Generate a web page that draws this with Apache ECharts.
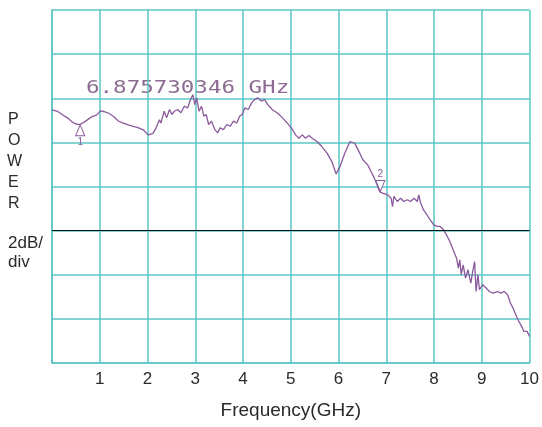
<!DOCTYPE html>
<html>
<head>
<meta charset="utf-8">
<script src="https://cdn.jsdelivr.net/npm/echarts@6/dist/echarts.min.js"></script>
<style>
  html, body { margin: 0; padding: 0; background: #ffffff; }
  #chart { width: 542px; height: 427px; }
</style>
</head>
<body>
<div id="chart"></div>
<script>
// Swept power trace, 0–10 GHz, 2 dB per vertical division
const freqGHz = [
  0, 0.12, 0.22, 0.33, 0.43, 0.53, 0.59, 0.64, 0.74, 0.84,
  0.94, 1.01, 1.08, 1.19, 1.29, 1.39, 1.49, 1.60, 1.70, 1.80,
  1.91, 2.01, 2.11,
  2.18, 2.25, 2.28, 2.35, 2.40, 2.46, 2.51, 2.56, 2.63, 2.70,
  2.77, 2.84, 2.90, 2.95, 2.99, 3.03, 3.08, 3.13, 3.18, 3.23,
  3.28, 3.34, 3.41, 3.47, 3.52, 3.59, 3.66, 3.73, 3.80, 3.87,
  3.93, 3.98, 4.04, 4.11, 4.18, 4.24, 4.31, 4.38, 4.45, 4.52,
  4.62, 4.73, 4.83, 4.93, 5.04, 5.10,
  5.17, 5.24, 5.31, 5.38, 5.45, 5.55, 5.65, 5.76, 5.86, 5.95,
  6.03, 6.13, 6.24, 6.34, 6.41, 6.51, 6.61, 6.68, 6.75, 6.82,
  6.86, 6.92, 7.03, 7.10, 7.13, 7.16, 7.23, 7.30, 7.37, 7.44,
  7.51, 7.58, 7.65, 7.68, 7.72, 7.78, 7.85, 7.92, 7.99, 8.06,
  8.13, 8.20, 8.26, 8.33, 8.40, 8.47, 8.51, 8.54, 8.57, 8.61,
  8.66, 8.71, 8.77, 8.81, 8.85, 8.88, 8.92, 8.95, 9.02, 9.09,
  9.16, 9.23, 9.33, 9.40, 9.47, 9.54, 9.60, 9.67, 9.74, 9.78,
  9.85, 9.88, 9.91, 9.95, 10.0
];
const powerDb = [
  11.47, 11.40, 11.25, 11.10, 10.91, 10.82, 10.82, 10.87, 11.02, 11.17,
  11.25, 11.43, 11.40, 11.32, 11.17, 10.97, 10.87, 10.79, 10.72, 10.67,
  10.57, 10.34, 10.40,
  10.66, 11.03, 10.88, 11.41, 11.11, 11.49, 11.26, 11.41, 11.49, 11.34,
  11.64, 11.56, 11.94, 12.16, 11.71, 12.02, 11.41, 11.64, 11.19, 11.26,
  10.81, 10.96, 10.58, 10.43, 10.66, 10.58, 10.81, 10.73, 10.96, 10.88,
  11.19, 11.26, 11.56, 11.49, 11.79, 11.94, 12.02, 11.87, 11.94, 11.71,
  11.47, 11.32, 11.10, 10.87, 10.57, 10.34,
  10.19, 10.34, 10.19, 10.31, 10.19, 10.04, 9.81, 9.51, 9.13, 8.57,
  8.90, 9.51, 10.04, 9.96, 9.66, 9.21, 8.98, 8.68, 8.38, 8.00,
  7.77, 7.70, 7.62, 7.47, 7.09, 7.55, 7.32, 7.47, 7.32, 7.40,
  7.32, 7.47, 7.32, 7.62, 7.25, 6.94, 6.72, 6.49, 6.27, 6.19,
  6.19, 6.04, 5.81, 5.51, 5.13, 4.76, 4.30, 4.68, 4.00, 4.45,
  3.85, 4.23, 3.62, 4.15, 4.60, 3.24, 4.00, 3.32, 3.55, 3.40,
  3.24, 3.17, 3.24, 3.17, 3.24, 3.09, 2.72, 2.41, 2.04, 2.11,
  1.59, 1.43, 1.36, 1.43, 1.20
];
// Marker frequencies (GHz)
const marker1GHz = 0.59;
const marker2GHz = 6.875730346;
const referenceLevelDb = 6;
const xTicks = [1, 2, 3, 4, 5, 6, 7, 8, 9, 10];

const GRID_COLOR = '#5cc6c6';
const TRACE_COLOR = '#8a5a9c';
const TEXT_COLOR = '#2a2a2a';

// Power on the trace at a given frequency (for placing markers on it)
function traceAt(f) {
  for (let i = 1; i < freqGHz.length; i++) {
    if (f <= freqGHz[i]) {
      const t = (f - freqGHz[i - 1]) / (freqGHz[i] - freqGHz[i - 1]);
      return powerDb[i - 1] + t * (powerDb[i] - powerDb[i - 1]);
    }
  }
  return powerDb[powerDb.length - 1];
}

const trace = freqGHz.map((f, i) => [f, powerDb[i]]);
const readout = marker2GHz.toFixed(9) + ' GHz';

const sideLabel = (text, left, top, size) => ({
  type: 'text', left: left, top: top,
  style: { text: text, fill: TEXT_COLOR, font: size + 'px Liberation Sans' }
});

const chart = echarts.init(document.getElementById('chart'), null, { renderer: 'canvas' });
chart.setOption({
  animation: false,
  backgroundColor: '#ffffff',
  grid: { left: 52, right: 5, top: 10, bottom: 64 },
  xAxis: {
    type: 'value',
    min: 0, max: 10, interval: 1,
    name: 'Frequency(GHz)',
    nameLocation: 'middle',
    nameGap: 38,
    nameTextStyle: { fontSize: 19, color: TEXT_COLOR, fontFamily: 'Liberation Sans, Arial, sans-serif' },
    axisLine: { show: true, lineStyle: { color: GRID_COLOR, width: 1.5 } },
    axisTick: { show: false },
    axisLabel: {
      margin: 8,
      fontSize: 17,
      color: TEXT_COLOR,
      fontFamily: 'Liberation Sans Narrow, Liberation Sans, Arial, sans-serif',
      formatter: v => (xTicks.indexOf(v) >= 0 ? String(v) : '')
    },
    splitLine: { show: true, lineStyle: { color: GRID_COLOR, width: 1.5 } }
  },
  yAxis: {
    type: 'value',
    min: 0, max: 16, interval: 2,
    axisLine: { show: true, lineStyle: { color: GRID_COLOR, width: 1.5 } },
    axisTick: { show: false },
    axisLabel: { show: false },
    splitLine: { show: true, lineStyle: { color: GRID_COLOR, width: 1.5 } }
  },
  series: [{
    type: 'line',
    data: trace,
    showSymbol: false,
    lineStyle: { color: TRACE_COLOR, width: 1.3 },
    markLine: {
      silent: true,
      symbol: 'none',
      label: { show: false },
      lineStyle: { color: '#111111', width: 1.2, type: 'solid' },
      data: [{ yAxis: referenceLevelDb }]
    },
    markPoint: {
      silent: true,
      data: [
        {
          coord: [marker1GHz, traceAt(marker1GHz)],
          symbol: 'triangle',
          symbolSize: [9, 11],
          symbolOffset: [0, 6],
          itemStyle: { color: '#ffffff', borderColor: TRACE_COLOR, borderWidth: 1 },
          label: { show: true, formatter: '1', position: 'bottom', distance: 1, fontSize: 10, color: TRACE_COLOR }
        },
        {
          coord: [marker2GHz, traceAt(marker2GHz)],
          symbol: 'triangle',
          symbolRotate: 180,
          symbolSize: [9, 11],
          symbolOffset: [0, -6],
          itemStyle: { color: '#ffffff', borderColor: TRACE_COLOR, borderWidth: 1 },
          label: { show: true, formatter: '2', position: 'top', distance: 1, fontSize: 10, color: TRACE_COLOR }
        }
      ]
    }
  }],
  graphic: [
    sideLabel('P', 8, 112, 16),
    sideLabel('O', 8, 133, 16),
    sideLabel('W', 7, 154, 16),
    sideLabel('E', 8, 175, 16),
    sideLabel('R', 8, 196, 16),
    sideLabel('2dB/', 8, 235, 17),
    sideLabel('div', 8, 254, 17),
    {
      type: 'text', x: 86, y: 79, scaleX: 1.25,
      style: { text: readout, fill: '#8c6c92', font: '18px DejaVu Sans Mono' }
    }
  ]
});
</script>
</body>
</html>
